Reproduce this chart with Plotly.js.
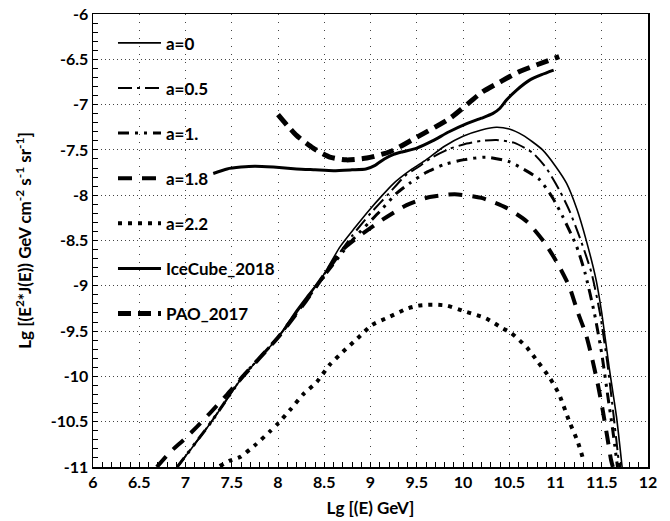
<!DOCTYPE html>
<html>
<head>
<meta charset="utf-8">
<script src="https://cdn.plot.ly/plotly-3.0.1.min.js"></script>
<style>html,body{margin:0;padding:0;background:#fff;}#chart{width:670px;height:521px;}</style>
</head>
<body>
<div id="chart"></div>
<script>
// ---- data ----
const seriesNames = ["a=0", "a=0.5", "a=1.", "a=1.8", "a=2.2", "IceCube_2018", "PAO_2017"];

const a0_x = [6.91, 7.1, 7.28, 7.45, 7.62, 7.8, 8.0, 8.2, 8.31, 8.48, 8.67, 8.83, 8.99, 9.12, 9.24, 9.32, 9.45, 9.6, 9.8, 10.0, 10.2, 10.36, 10.5, 10.65, 10.75, 10.86, 11.0, 11.12, 11.23, 11.33, 11.44, 11.5, 11.58, 11.66, 11.72];
const a0_y = [-11, -10.75, -10.5, -10.25, -10.0, -9.8, -9.57, -9.27, -9.12, -8.9, -8.57, -8.36, -8.16, -8.01, -7.88, -7.81, -7.71, -7.61, -7.46, -7.35, -7.28, -7.25, -7.27, -7.34, -7.41, -7.5, -7.68, -7.87, -8.15, -8.49, -8.94, -9.3, -9.9, -10.45, -11];

const a05_x = [6.91, 7.28, 7.62, 8.0, 8.48, 8.8, 9.0, 9.2, 9.39, 9.5, 9.67, 9.85, 10.04, 10.2, 10.36, 10.55, 10.75, 10.9, 11.04, 11.15, 11.26, 11.39, 11.48, 11.56, 11.63, 11.69];
const a05_y = [-11, -10.5, -10.0, -9.57, -8.9, -8.45, -8.2, -7.98, -7.77, -7.7, -7.58, -7.49, -7.43, -7.4, -7.39, -7.42, -7.53, -7.7, -7.94, -8.17, -8.46, -8.86, -9.3, -9.85, -10.45, -11];

const a1_x = [6.91, 7.28, 7.62, 8.0, 8.48, 8.8, 9.1, 9.28, 9.42, 9.6, 9.8, 10.0, 10.25, 10.5, 10.7, 10.83, 10.97, 11.08, 11.23, 11.32, 11.42, 11.5, 11.57, 11.62, 11.67];
const a1_y = [-11, -10.5, -10.0, -9.57, -8.92, -8.5, -8.18, -7.98, -7.87, -7.75, -7.66, -7.61, -7.58, -7.63, -7.74, -7.83, -8.03, -8.24, -8.57, -8.86, -9.3, -9.75, -10.25, -10.6, -11];

const a18_x = [6.69, 6.83, 6.98, 7.12, 7.26, 7.45, 7.62, 8.0, 8.3, 8.5, 8.7, 8.92, 9.13, 9.39, 9.64, 9.91, 10.2, 10.47, 10.69, 10.88, 11.02, 11.15, 11.24, 11.33, 11.4, 11.46, 11.51, 11.56, 11.6, 11.62];
const a18_y = [-11, -10.84, -10.7, -10.56, -10.41, -10.2, -10.0, -9.57, -9.17, -8.88, -8.6, -8.42, -8.27, -8.11, -8.02, -7.99, -8.03, -8.14, -8.29, -8.52, -8.75, -9.01, -9.29, -9.54, -9.82, -10.1, -10.37, -10.67, -10.92, -11];

const a22_x = [7.37, 7.48, 7.59, 7.75, 7.91, 8.0, 8.13, 8.27, 8.42, 8.56, 8.7, 8.86, 9.02, 9.21, 9.4, 9.51, 9.62, 9.73, 9.83, 10.04, 10.25, 10.43, 10.52, 10.69, 10.81, 10.94, 11.04, 11.15, 11.24, 11.31];
const a22_y = [-10.99, -10.93, -10.89, -10.76, -10.61, -10.52, -10.37, -10.2, -10.06, -9.87, -9.73, -9.58, -9.43, -9.34, -9.25, -9.22, -9.21, -9.21, -9.22, -9.29, -9.36, -9.47, -9.52, -9.68, -9.84, -10.02, -10.2, -10.5, -10.72, -10.95];

const ice_x = [7.3, 7.45, 7.6, 7.75, 7.95, 8.2, 8.4, 8.6, 8.8, 8.95, 9.05, 9.15, 9.25, 9.35, 9.5, 9.67, 9.85, 10.04, 10.2, 10.32, 10.4, 10.47, 10.58, 10.72, 10.85, 10.98];
const ice_y = [-7.76, -7.71, -7.69, -7.68, -7.69, -7.71, -7.72, -7.73, -7.72, -7.71, -7.67, -7.6, -7.55, -7.52, -7.48, -7.4, -7.3, -7.21, -7.15, -7.1, -7.04, -6.95, -6.84, -6.73, -6.67, -6.62];

const pao_x = [8.0, 8.1, 8.2, 8.38, 8.56, 8.74, 8.96, 9.21, 9.5, 9.86, 10.21, 10.4, 10.6, 10.8, 11.04];
const pao_y = [-7.11, -7.23, -7.34, -7.48, -7.58, -7.61, -7.59, -7.52, -7.36, -7.15, -6.86, -6.75, -6.64, -6.56, -6.47];

const xTickVals = [6, 6.5, 7, 7.5, 8, 8.5, 9, 9.5, 10, 10.5, 11, 11.5, 12];
const xTickText = ["6", "6.5", "7", "7.5", "8", "8.5", "9", "9.5", "10", "10.5", "11", "11.5", "12"];
const yTickVals = [-6, -6.5, -7, -7.5, -8, -8.5, -9, -9.5, -10, -10.5, -11];
const yTickText = ["-6", "-6.5", "-7", "-7.5", "-8", "-8.5", "-9", "-9.5", "-10", "-10.5", "-11"];

// ---- styles ----
const FONT = "Lato, 'Liberation Sans', Arial, sans-serif";
const styles = [
  {width: 1.6, dash: "solid"},
  {width: 2, dash: "14px,5px,3px,5px"},
  {width: 3, dash: "11px,6px,3px,6px,3px,6px"},
  {width: 4, dash: "14px,10px"},
  {width: 4, dash: "4px,6px"},
  {width: 3, dash: "solid"},
  {width: 5, dash: "13px,7px"}
];
const xs = [a0_x, a05_x, a1_x, a18_x, a22_x, ice_x, pao_x];
const ys = [a0_y, a05_y, a1_y, a18_y, a22_y, ice_y, pao_y];

const traces = seriesNames.map((n, i) => ({
  type: "scatter", mode: "lines", name: n,
  x: xs[i], y: ys[i], legendgroup: "g" + i,
  line: {color: "#000", width: styles[i].width, dash: styles[i].dash, shape: "spline", smoothing: 0.6},
  cliponaxis: true
}));

const tickFont = {family: FONT, size: 16, color: "#000", weight: "bold"};
const axisCommon = {
  showline: true, linecolor: "#000", linewidth: 1.5, mirror: true,
  showgrid: true, gridcolor: "#444", gridwidth: 1,
  ticks: "inside", ticklen: 5, tickcolor: "#000", tickwidth: 1,
  tickfont: tickFont,
  zeroline: false, tickmode: "array",
  minor: {dtick: 0.1, ticks: "inside", ticklen: 5, tickcolor: "#000", showgrid: false}
};

const layout = {
  width: 670, height: 521,
  margin: {l: 93, r: 22, t: 14, b: 54},
  paper_bgcolor: "#fff", plot_bgcolor: "#fff",
  showlegend: true,
  legend: {x: 0.036, y: 0.975, xanchor: "left", yanchor: "top",
           bgcolor: "rgba(0,0,0,0)", borderwidth: 0,
           traceorder: "grouped", tracegroupgap: 20, itemwidth: 43,
           font: {family: FONT, size: 17, color: "#000", weight: "bold"}},
  xaxis: Object.assign({}, axisCommon, {
    range: [6, 12], tickvals: xTickVals, ticktext: xTickText, griddash: "1px,7px",
    title: {text: "Lg [(E) GeV]", font: {family: FONT, size: 17, color: "#000", weight: "bold"}, standoff: 12}
  }),
  yaxis: Object.assign({}, axisCommon, {
    range: [-11, -6], tickvals: yTickVals, ticktext: yTickText, griddash: "1px,3px",
    title: {text: "Lg [(E<sup>2</sup>*J(E)) GeV cm<sup>-2</sup> s<sup>-1</sup> sr<sup>-1</sup>]",
            font: {family: FONT, size: 17, color: "#000", weight: "bold"}, standoff: 14}
  })
};

Plotly.newPlot("chart", traces, layout, {staticPlot: true, displayModeBar: false});
</script>
</body>
</html>
